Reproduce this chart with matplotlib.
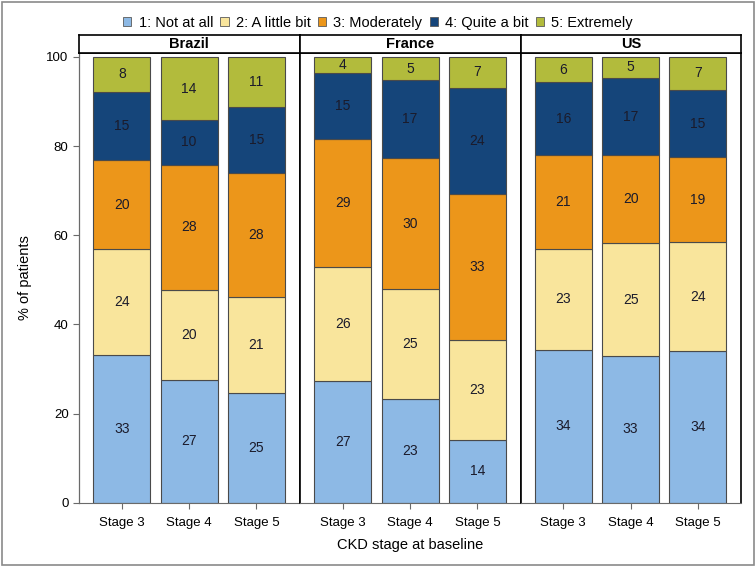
import matplotlib
matplotlib.use("Agg")
import numpy as np
import matplotlib.pyplot as plt
from matplotlib.patches import Rectangle, Patch

plt.rcParams['font.family'] = ['Liberation Sans', 'DejaVu Sans']

countries = ["Brazil", "France", "US"]
stages = ["Stage 3", "Stage 4", "Stage 5"]
levels = ["1: Not at all", "2: A little bit", "3: Moderately", "4: Quite a bit", "5: Extremely"]
colors = ["#8db9e5", "#f9e59c", "#ec961a", "#15457a", "#b2bb3c"]

# percent of patients, rows = stage 3/4/5, columns = levels 1..5
brazil = [[33.2, 23.6, 20.1, 15.3, 7.8],
          [27.6, 20.2, 28.0, 10.0, 14.2],
          [24.7, 21.4, 27.9, 14.7, 11.3]]
france = [[27.2, 25.6, 28.8, 14.7, 3.7],
          [23.3, 24.6, 29.4, 17.4, 5.3],
          [14.0, 22.6, 32.6, 23.8, 7.0]]
us = [[34.3, 22.6, 21.1, 16.3, 5.7],
      [32.9, 25.3, 19.7, 17.4, 4.7],
      [34.0, 24.4, 19.1, 15.1, 7.4]]
label_vals = {
    "Brazil": [[33, 24, 20, 15, 8], [27, 20, 28, 10, 14], [25, 21, 28, 15, 11]],
    "France": [[27, 26, 29, 15, 4], [23, 25, 30, 17, 5], [14, 23, 33, 24, 7]],
    "US": [[34, 23, 21, 16, 6], [33, 25, 20, 17, 5], [34, 24, 19, 15, 7]],
}
data = {"Brazil": brazil, "France": france, "US": us}

W, H = 756, 567
fig = plt.figure(figsize=(W / 100, H / 100), dpi=100)

# outer frame
fig.patches.append(Rectangle((0.002, 0.003), 0.996, 0.994, transform=fig.transFigure,
                             fill=False, edgecolor="#8a8a8a", linewidth=1.2))

px_left = [79, 300, 520.5]
px_w = 220.5
ax_bottom, ax_top = 502.7, 53.3
strip_top = 35

for k, c in enumerate(countries):
    ax = fig.add_axes([px_left[k] / W, 1 - ax_bottom / H, px_w / W, (ax_bottom - ax_top) / H])
    vals = np.array(data[c])
    x = np.arange(len(stages))
    bottom = np.zeros(len(stages))
    for j in range(len(levels)):
        ax.bar(x, vals[:, j], bottom=bottom, width=0.845, color=colors[j],
               edgecolor="#4a4a4a", linewidth=0.8, zorder=2)
        for i in range(len(stages)):
            ax.text(x[i], bottom[i] + vals[i, j] / 2, str(label_vals[c][i][j]),
                    ha="center", va="center", fontsize=10, color="#1b1b2b", zorder=3)
        bottom += vals[:, j]
    ax.set_xlim(-0.635, 2.64)
    ax.set_ylim(0, 100.8)
    ax.set_xticks(x)
    ax.set_xticklabels(stages, fontsize=9.5)
    ax.tick_params(axis="x", length=4, color="#6a6a6a", pad=6)
    for s in ["top", "right", "left"]:
        ax.spines[s].set_color("black")
        ax.spines[s].set_linewidth(1.2)
    ax.spines["bottom"].set_color("#6a6a6a")
    if k == 0:
        ax.set_yticks([0, 20, 40, 60, 80, 100])
        ax.tick_params(axis="y", labelsize=9.5, length=4, color="#6a6a6a")
        ax.spines["left"].set_color("#6a6a6a")
        ax.spines["left"].set_linewidth(0.9)
        ax.set_ylabel("% of patients", fontsize=10.5, labelpad=10)
    else:
        ax.set_yticks([])
    if k == 1:
        ax.set_xlabel("CKD stage at baseline", fontsize=10.5, labelpad=7)

    # strip header
    sax = fig.add_axes([px_left[k] / W, 1 - ax_top / H, px_w / W, (ax_top - strip_top) / H])
    sax.set_xticks([])
    sax.set_yticks([])
    for s in sax.spines.values():
        s.set_color("black")
        s.set_linewidth(1.2)
    sax.text(0.5, 0.5, c, transform=sax.transAxes, ha="center", va="center",
             fontsize=10.5, fontweight="bold")

handles = [Patch(facecolor=colors[j], edgecolor="#5a5a5a", linewidth=0.6) for j in range(len(levels))]
fig.legend(handles, levels, loc="center", bbox_to_anchor=(0.5, 1 - 23 / H), ncol=5,
           frameon=False, fontsize=10.5, handlelength=0.55, handleheight=0.55,
           handletextpad=0.5, columnspacing=0.5)

fig.savefig("out.png", dpi=100)
